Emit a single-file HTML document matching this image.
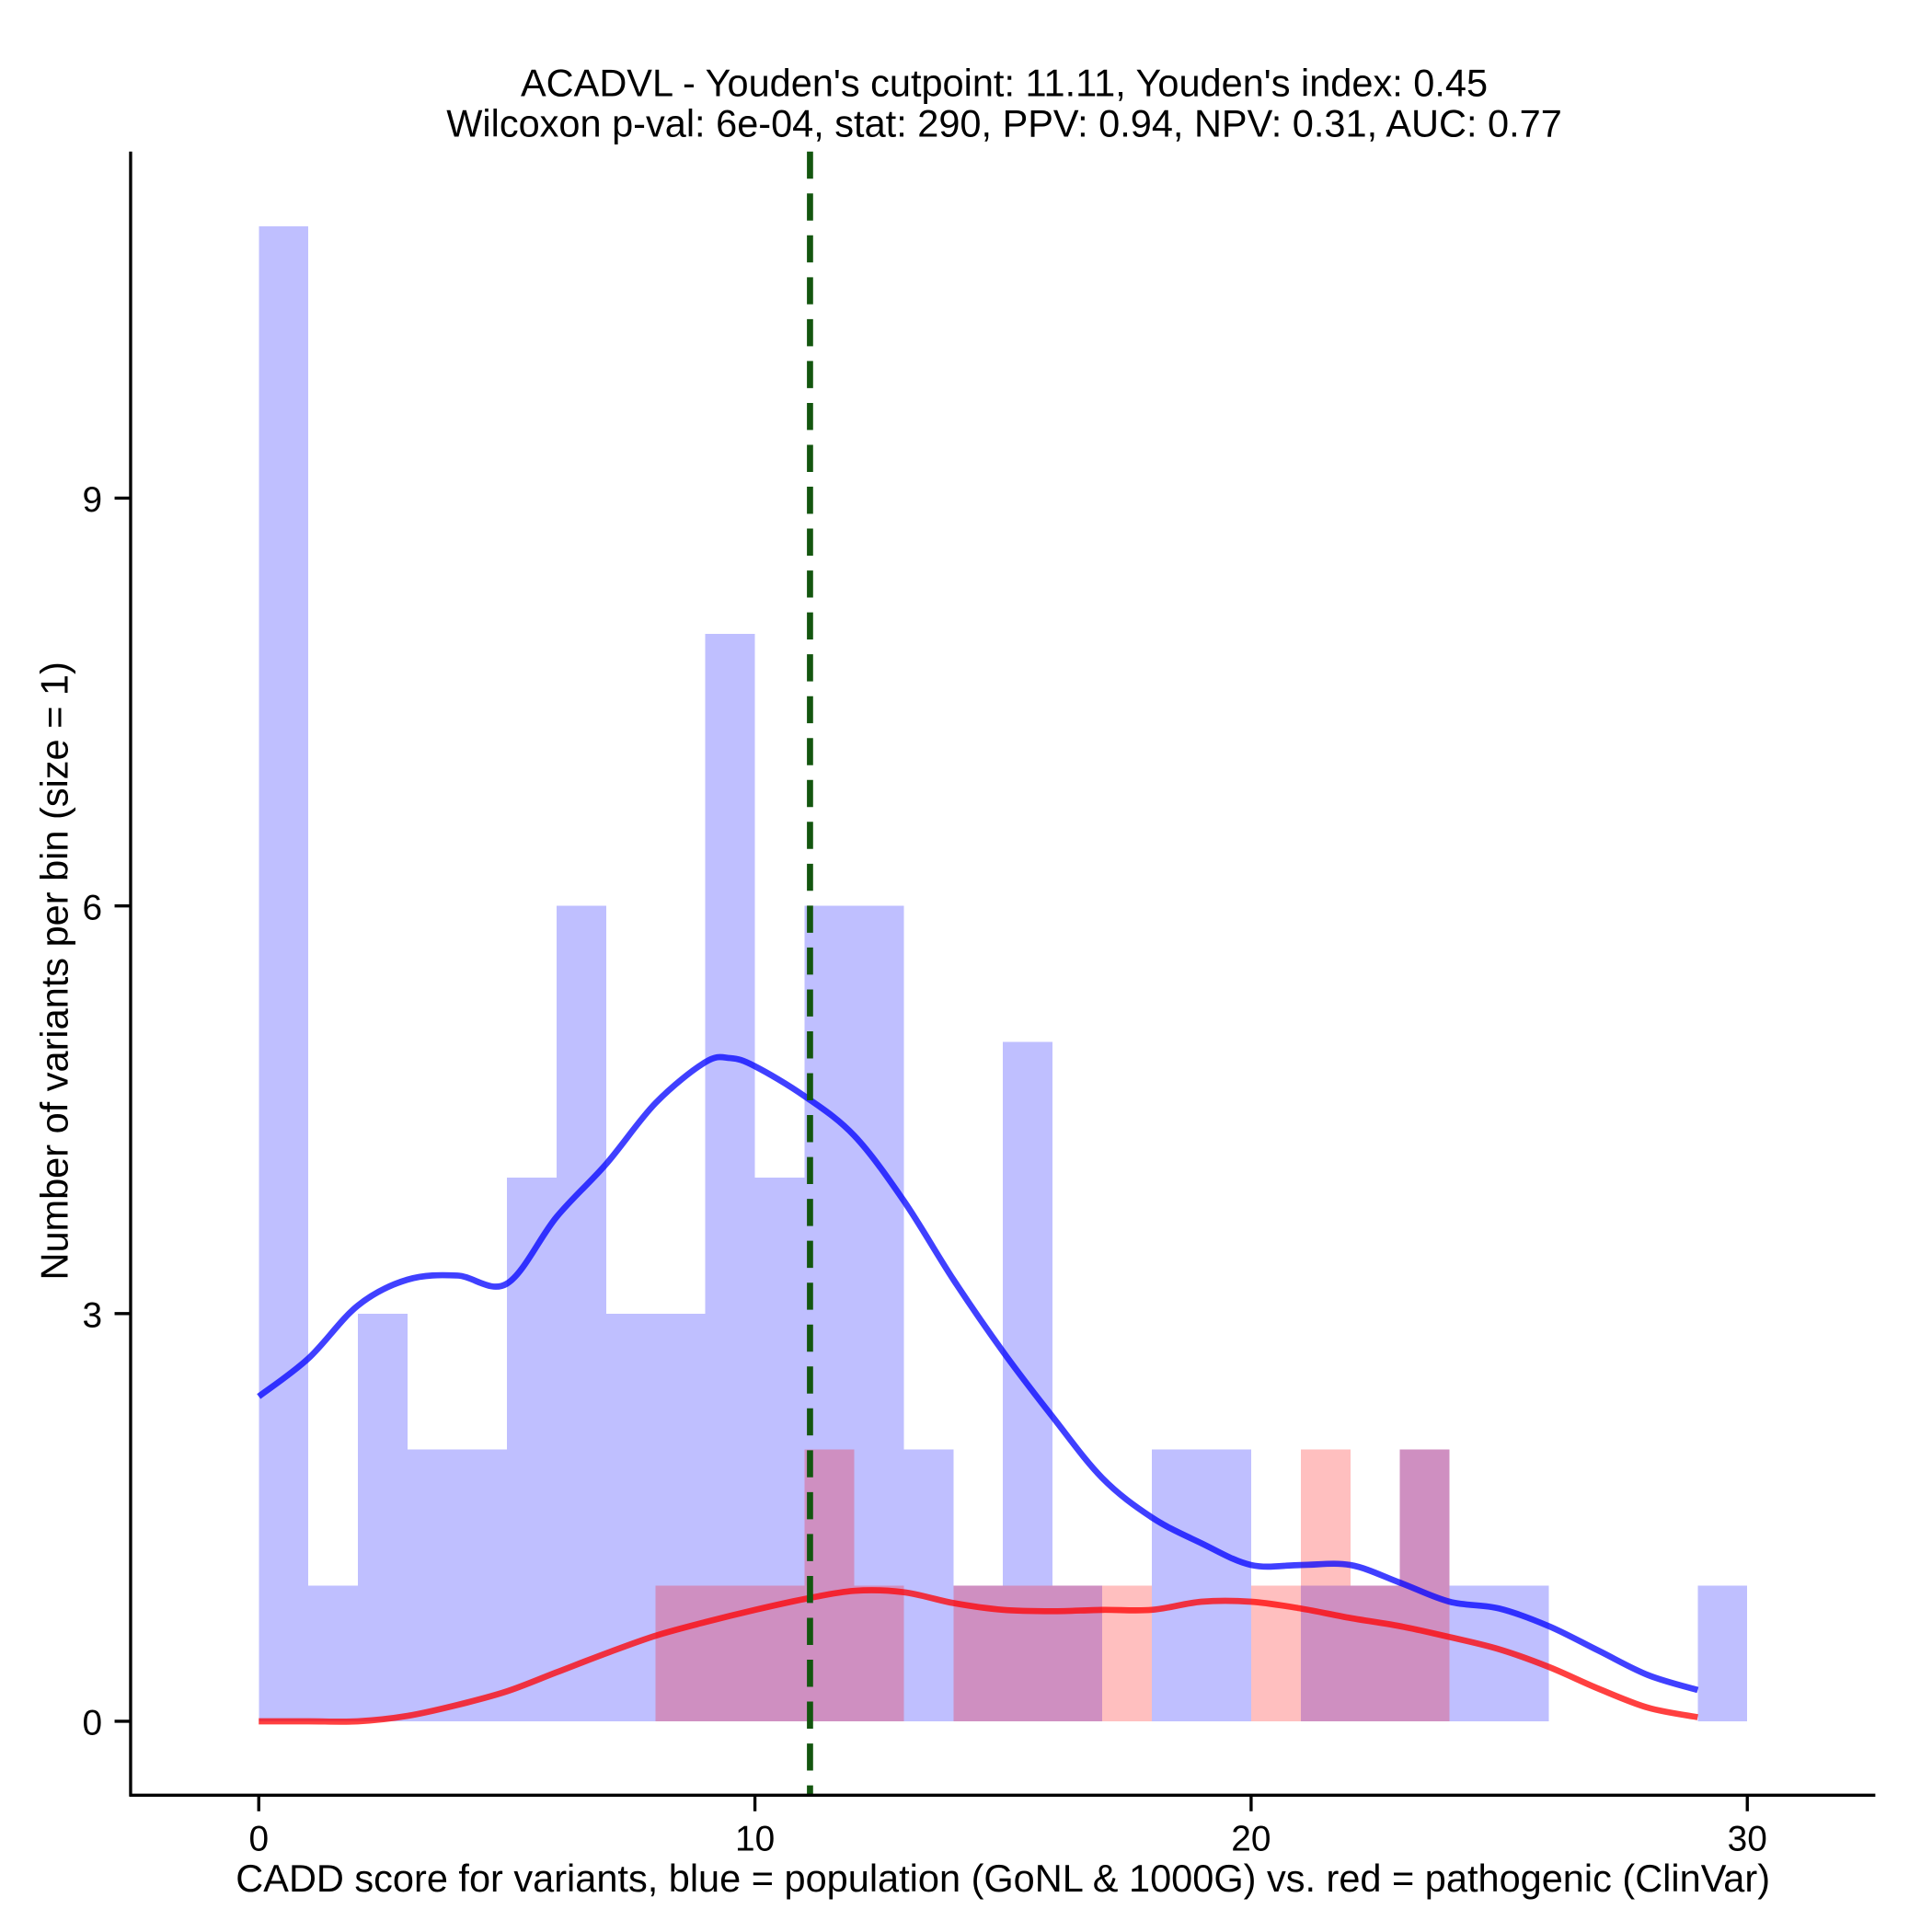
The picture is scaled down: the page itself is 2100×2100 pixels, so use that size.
<!DOCTYPE html>
<html><head><meta charset="utf-8"><style>
html,body{margin:0;padding:0;background:#fff;}
svg{display:block;font-family:"Liberation Sans",Arial,sans-serif;}
</style></head><body>
<svg id="chart" width="2100" height="2100" viewBox="0 0 1568 1568" xmlns="http://www.w3.org/2000/svg">
<rect width="1568" height="1568" fill="#fff"/>
<g id="bars-blue" shape-rendering="crispEdges"></g>
<g id="bars-red" shape-rendering="crispEdges"></g>
<path id="curve-blue" fill="none" stroke="#0000ff" stroke-opacity="0.75" stroke-width="5"/>
<path id="curve-red" fill="none" stroke="#ff0000" stroke-opacity="0.75" stroke-width="5"/>
<line id="cutline" y1="123" y2="1457" stroke="#13560f" stroke-width="5" stroke-dasharray="22,12"/>
<line x1="106" y1="123" x2="106" y2="1458" stroke="#000" stroke-width="2.5"/>
<line x1="105" y1="1457" x2="1522" y2="1457" stroke="#000" stroke-width="2.5"/>
<g id="xticks"></g>
<g id="yticks"></g>
<text x="815" y="78" font-size="31" text-anchor="middle">ACADVL - Youden's cutpoint: 11.11, Youden's index: 0.45</text>
<text x="815" y="111" font-size="31" text-anchor="middle">Wilcoxon p-val: 6e-04, stat: 290, PPV: 0.94, NPV: 0.31, AUC: 0.77</text>
<text x="814" y="1535" font-size="31" text-anchor="middle">CADD score for variants, blue = population (GoNL &amp; 1000G) vs. red = pathogenic (ClinVar)</text>
<text transform="translate(55,788) rotate(-90)" font-size="31" text-anchor="middle">Number of variants per bin (size = 1)</text>
</svg>
<script>
const blueCounts=[11,1,3,2,2,4,6,3,3,8,4,6,6,2,1,5,1,0,2,2,0,1,1,2,1,1,0,0,0,1];
const redCounts=[0,0,0,0,0,0,0,0,1,1,1,2,1,0,1,1,1,1,0,0,1,2,1,2,0,0,0,0,0,0];
const blueDensX=[0,1,2,3,4,5,6,7,8,9,9.5,10,11,12,13,14,15,16,17,18,19,20,21,22,23,24,25,26,27,28,29];
const blueDensY=[2.39,2.67,3.06,3.25,3.28,3.22,3.71,4.10,4.55,4.85,4.88,4.82,4.60,4.31,3.83,3.25,2.72,2.24,1.79,1.50,1.31,1.15,1.15,1.15,1.02,0.88,0.83,0.70,0.52,0.34,0.23];
const redDensX=[0,1,2,3,4,5,6,7,8,9,10,11,12,13,14,15,16,17,18,19,20,21,22,23,24,25,26,27,28,29];
const redDensY=[0,0,0,0.04,0.12,0.22,0.36,0.5,0.63,0.73,0.82,0.9,0.96,0.95,0.87,0.82,0.81,0.82,0.82,0.88,0.88,0.83,0.76,0.70,0.62,0.53,0.40,0.24,0.10,0.03];
const cutpoint=11.11;
const xTicks=[0,10,20,30];
const yTicks=[0,3,6,9];
const NS="http://www.w3.org/2000/svg";
function xs(v){return 210+v*40.27;}
function ys(v){return 1397-v*110.3;}
function mk(t,a,p){const e=document.createElementNS(NS,t);for(const k in a)e.setAttribute(k,a[k]);p.appendChild(e);return e;}
const gb=document.getElementById('bars-blue'),gr=document.getElementById('bars-red');
function bar(g,x0,x1,v0,v1,col,name){const r=mk('rect',{x:xs(x0),y:ys(v1),width:xs(x1)-xs(x0),height:ys(v0)-ys(v1),fill:col},g);

}
blueCounts.forEach((c,i)=>{if(c)bar(gb,i,i+1,0,c,'#bfbfff','blue-bar');});
redCounts.forEach((c,i)=>{if(!c)return;const ov=Math.min(c,blueCounts[i]);
if(ov>0)bar(gr,i,i+1,0,ov,'#cf8fc1','red-bar-overlap');
if(c>ov)bar(gr,i,i+1,ov,c,'#ffbfbf','red-bar');});
function path(X,Y){const p=X.map((x,i)=>[xs(x),ys(Y[i])]);let d='M'+p[0][0]+','+p[0][1];
for(let i=0;i<p.length-1;i++){const p0=p[i-1]||p[i],p1=p[i],p2=p[i+1],p3=p[i+2]||p2;
d+=' C'+(p1[0]+(p2[0]-p0[0])/6)+','+(p1[1]+(p2[1]-p0[1])/6)+' '+(p2[0]-(p3[0]-p1[0])/6)+','+(p2[1]-(p3[1]-p1[1])/6)+' '+p2[0]+','+p2[1];}return d;}
document.getElementById('curve-blue').setAttribute('d',path(blueDensX,blueDensY));
document.getElementById('curve-red').setAttribute('d',path(redDensX,redDensY));
const cl=document.getElementById('cutline');cl.setAttribute('x1',xs(cutpoint));cl.setAttribute('x2',xs(cutpoint));
const gx=document.getElementById('xticks'),gy=document.getElementById('yticks');
xTicks.forEach(t=>{const l=mk('line',{x1:xs(t),x2:xs(t),y1:1457,y2:1470,stroke:'#000','stroke-width':2.5},gx);


const tx=mk('text',{x:xs(t),y:1502,'font-size':29,'text-anchor':'middle'},gx);tx.textContent=t;

});
yTicks.forEach(t=>{const l=mk('line',{x1:93,x2:106,y1:ys(t),y2:ys(t),stroke:'#000','stroke-width':2.5},gy);


const tx=mk('text',{x:83,y:ys(t)+11,'font-size':29,'text-anchor':'end'},gy);tx.textContent=t;

});
</script>
</body></html>
